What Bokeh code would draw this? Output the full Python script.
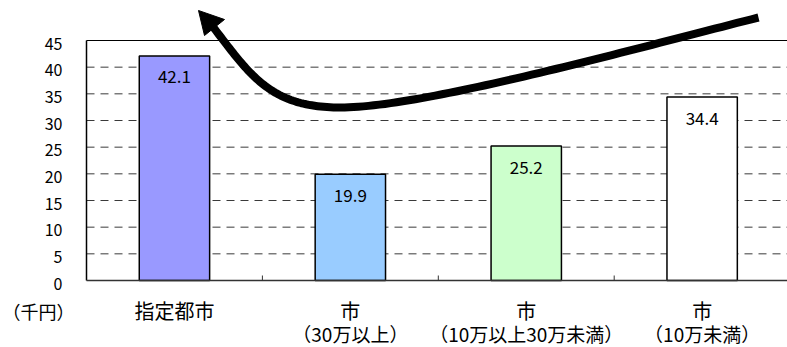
import numpy as np
from bokeh.plotting import figure
from bokeh.models import Range1d, ColumnDataSource
from bokeh.core.properties import value
from bokeh.embed import file_html
from bokeh.resources import INLINE

# ---- data ----
category_line1 = ["指定都市", "市", "市", "市"]
category_line2 = ["", "（30万以上）", "（10万以上30万未満）", "（10万未満）"]
values = [42.1, 19.9, 25.2, 34.4]
y_ticks = [0, 5, 10, 15, 20, 25, 30, 35, 40, 45]
unit_label = "（千円）"

# ---- styles ----
bar_colors = ["#9999FF", "#99CCFF", "#CCFFCC", "#FFFFFF"]
FONT = "Noto Sans CJK JP"

W, H = 787, 347
AXIS_LEFT_PX, AXIS_BOTTOM_PX = 86, 280     # where x=0 / y=0 sit on the canvas
PX_PER_X = 175.9                            # one category slot
PX_PER_Y = 240 / 45.0

x_range = Range1d(-AXIS_LEFT_PX / PX_PER_X, (W - AXIS_LEFT_PX) / PX_PER_X)
y_range = Range1d(-(H - AXIS_BOTTOM_PX) / PX_PER_Y, AXIS_BOTTOM_PX / PX_PER_Y)
X_END = x_range.end

p = figure(width=W, height=H, x_range=x_range, y_range=y_range,
           x_axis_location=None, y_axis_location=None,
           output_backend="svg", toolbar_location=None,
           min_border=0)
p.outline_line_color = None
p.background_fill_color = "white"
p.border_fill_color = "white"
p.xgrid.visible = False
p.ygrid.visible = False

n = len(values)
xs = [i + 0.5 for i in range(n)]
y_top = max(y_ticks)

# dashed horizontal grid
grid_ys = [t for t in y_ticks if 0 < t < y_top]
p.segment(x0=[0] * len(grid_ys), x1=[X_END] * len(grid_ys), y0=grid_ys, y1=grid_ys,
          line_color="#3a3a3a", line_width=1, line_dash="8 6")

# bars
src = ColumnDataSource(dict(x=xs, top=values, color=bar_colors,
                            label=[f"{v:.1f}" for v in values]))
p.vbar(x="x", top="top", width=0.4, bottom=0, fill_color="color",
       line_color="black", line_width=1.5, source=src)

# frame lines: top border, y axis, x axis
p.segment(x0=[0], x1=[X_END], y0=[y_top], y1=[y_top], line_color="black", line_width=1.2)
p.segment(x0=[0], x1=[0], y0=[0], y1=[y_top], line_color="black", line_width=1.5)
p.segment(x0=[0], x1=[X_END], y0=[0], y1=[0], line_color="#333333", line_width=1.5)

# category separator ticks (inward, 5px)
sep = list(range(1, n))
p.segment(x0=sep, x1=sep, y0=[0] * len(sep), y1=[5 / PX_PER_Y] * len(sep),
          line_color="#333333", line_width=1)

# value labels
p.text(x="x", y="top", text="label", source=src, text_align="center",
       text_baseline="middle", y_offset=21, text_font=value(FONT),
       text_font_size="17px", text_color="black")

# y tick labels
p.text(x=[0] * len(y_ticks), y=y_ticks, text=[str(t) for t in y_ticks],
       text_align="right", text_baseline="middle", x_offset=-24, y_offset=3,
       text_font=value(FONT), text_font_size="16px", text_color="black")

# category labels (two rows)
p.text(x=xs, y=[0] * n, text=category_line1, text_align="center",
       text_baseline="middle", y_offset=30, text_font=value(FONT),
       text_font_size="20px", text_color="black")
p.text(x=xs, y=[0] * n, text=category_line2, text_align="center",
       text_baseline="middle", y_offset=53, text_font=value(FONT),
       text_font_size="19px", text_color="black")

# unit label
p.text(x=[0], y=[0], text=[unit_label], text_align="center", text_baseline="middle",
       x_offset=-48, y_offset=30, text_font=value(FONT), text_font_size="18px",
       text_color="black")


# ---- decorative curved arrow (pixel geometry -> data coords) ----
def dx(px):
    return (np.asarray(px, dtype=float) - AXIS_LEFT_PX) / PX_PER_X


def dy(py):
    return (AXIS_BOTTOM_PX - np.asarray(py, dtype=float)) / PX_PER_Y


def cubic(p0, p1, p2, p3, k=60):
    t = np.linspace(0, 1, k)[:, None]
    pts = ((1 - t) ** 3 * np.array(p0) + 3 * (1 - t) ** 2 * t * np.array(p1)
           + 3 * (1 - t) * t ** 2 * np.array(p2) + t ** 3 * np.array(p3))
    return pts


seg_a = cubic((758, 17), (620, 52), (420, 107), (340, 107))
seg_b = cubic((340, 107), (270, 107), (250, 75), (213, 27))
path = np.vstack([seg_a, seg_b[1:]])
p.line(x=dx(path[:, 0]), y=dy(path[:, 1]), line_color="black", line_width=8,
       line_join="round")
p.patch(x=dx([198, 204, 224]), y=dy([10, 35, 19]),
        fill_color="black", line_color="black", line_width=1)

open("out.html", "w").write(file_html(p, INLINE))
